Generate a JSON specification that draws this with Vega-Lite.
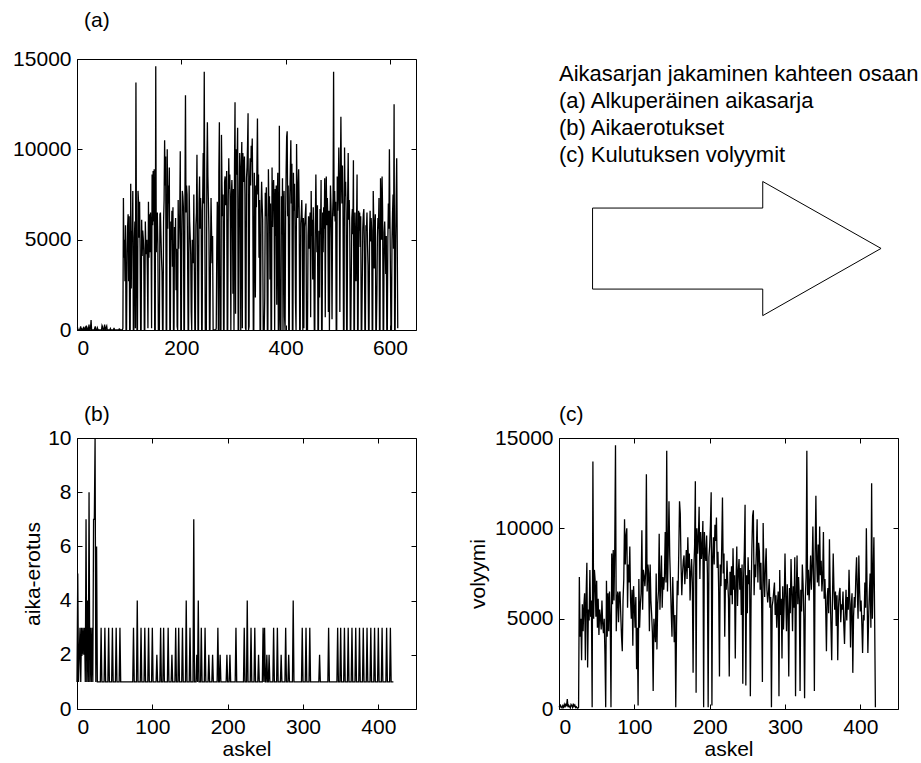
{
"$schema":"https://vega.github.io/schema/vega-lite/v6.json",
"autosize":{"type":"none"},
"padding":{"left":77,"top":59,"right":844,"bottom":704},
"config":{
 "font":"Liberation Sans",
 "view":{"stroke":"black","strokeWidth":1},
 "axis":{"grid":false,"domain":false,"tickSize":-5,"tickColor":"black","tickWidth":1,"labelColor":"black","labelFont":"Liberation Sans","labelFontSize":21,"titleFont":"Liberation Sans","titleFontSize":21,"titleFontWeight":"normal","titleColor":"black"},
 "axisX":{"labelPadding":12},
 "axisY":{"labelPadding":11},
 "title":{"font":"Liberation Sans","fontSize":21,"fontWeight":"normal","color":"black","anchor":"start","frame":"group"}
},
"datasets":{
"note":[{"ln":0,"txt":"Aikasarjan jakaminen kahteen osaan"},{"ln":1,"txt":"(a) Alkuperäinen aikasarja"},{"ln":2,"txt":"(b) Aikaerotukset"},{"ln":3,"txt":"(c) Kulutuksen volyymit"}],
"arrow":[{"p":0,"ax":9.9,"ay":45},{"p":1,"ax":60.1,"ay":45},{"p":2,"ax":60.1,"ay":54.8},{"p":3,"ax":95,"ay":30.1},{"p":4,"ax":60.1,"ay":5.3},{"p":5,"ax":60.1,"ay":15.1},{"p":6,"ax":9.9,"ay":15.1},{"p":7,"ax":9.9,"ay":45}],
"s":[
{"t":1,"k":0,"d":1,"v":150},
{"t":2,"v":0},{"t":3,"v":0},{"t":4,"v":0},{"t":5,"v":0},
{"t":6,"k":1,"d":5,"v":80},
{"t":7,"k":2,"d":1,"v":200},
{"t":8,"v":0},
{"t":9,"k":3,"d":2,"v":120},
{"t":10,"v":0},{"t":11,"v":0},
{"t":12,"k":4,"d":3,"v":60},
{"t":13,"k":5,"d":1,"v":180},
{"t":14,"v":0},{"t":15,"v":0},
{"t":16,"k":6,"d":3,"v":100},
{"t":17,"v":0},
{"t":18,"k":7,"d":2,"v":250},
{"t":19,"v":0},{"t":20,"v":0},
{"t":21,"k":8,"d":3,"v":90},
{"t":22,"v":0},
{"t":23,"k":9,"d":2,"v":300},
{"t":24,"v":0},{"t":25,"v":0},
{"t":26,"k":10,"d":3,"v":150},
{"t":27,"k":11,"d":1,"v":550},
{"t":28,"v":0},{"t":29,"v":0},{"t":30,"v":0},{"t":31,"v":0},{"t":32,"v":0},{"t":33,"v":0},
{"t":34,"k":12,"d":7,"v":100},
{"t":35,"k":13,"d":1,"v":200},
{"t":36,"v":0},{"t":37,"v":0},{"t":38,"v":0},
{"t":39,"k":14,"d":4,"v":130},
{"t":40,"k":15,"d":1,"v":60},
{"t":41,"v":0},{"t":42,"v":0},{"t":43,"v":0},{"t":44,"v":0},{"t":45,"v":0},{"t":46,"v":0},{"t":47,"v":0},
{"t":48,"k":16,"d":8,"v":250},
{"t":49,"k":17,"d":1,"v":180},
{"t":50,"v":0},{"t":51,"v":0},
{"t":52,"k":18,"d":3,"v":90},
{"t":53,"k":19,"d":1,"v":300},
{"t":54,"v":0},{"t":55,"v":0},
{"t":56,"k":20,"d":3,"v":150},
{"t":57,"k":21,"d":1,"v":220},
{"t":58,"v":0},{"t":59,"v":0},{"t":60,"v":0},{"t":61,"v":0},{"t":62,"v":0},{"t":63,"v":0},
{"t":64,"k":22,"d":7,"v":80},
{"t":65,"v":0},{"t":66,"v":0},{"t":67,"v":0},{"t":68,"v":0},{"t":69,"v":0},{"t":70,"v":0},
{"t":71,"k":23,"d":7,"v":120},
{"t":72,"v":0},{"t":73,"v":0},{"t":74,"v":0},{"t":75,"v":0},{"t":76,"v":0},{"t":77,"v":0},{"t":78,"v":0},{"t":79,"v":0},{"t":80,"v":0},
{"t":81,"k":24,"d":10,"v":60},
{"t":82,"k":25,"d":1,"v":40},
{"t":83,"v":0},{"t":84,"v":0},{"t":85,"v":0},{"t":86,"v":0},{"t":87,"v":0},
{"t":88,"k":26,"d":6,"v":100},
{"t":89,"k":27,"d":1,"v":7300},
{"t":90,"k":28,"d":1,"v":4000},
{"t":91,"k":29,"d":1,"v":5000},
{"t":92,"k":30,"d":1,"v":2700},
{"t":93,"k":31,"d":1,"v":5800},
{"t":94,"v":0},{"t":95,"v":0},
{"t":96,"k":32,"d":3,"v":4300},
{"t":97,"k":33,"d":1,"v":5700},
{"t":98,"k":34,"d":1,"v":6400},
{"t":99,"k":35,"d":1,"v":2700},
{"t":100,"k":36,"d":1,"v":6300},
{"t":101,"v":0},{"t":102,"v":0},
{"t":103,"k":37,"d":3,"v":8100},
{"t":104,"k":38,"d":1,"v":2300},
{"t":105,"k":39,"d":1,"v":5500},
{"t":106,"k":40,"d":1,"v":4900},
{"t":107,"k":41,"d":1,"v":7700},
{"t":108,"v":0},{"t":109,"v":0},
{"t":110,"k":42,"d":3,"v":5100},
{"t":111,"k":43,"d":1,"v":6000},
{"t":112,"k":44,"d":1,"v":100},
{"t":113,"k":45,"d":1,"v":13700},
{"t":114,"k":46,"d":1,"v":5000},
{"t":115,"v":0},{"t":116,"v":0},
{"t":117,"k":47,"d":3,"v":7700},
{"t":118,"k":48,"d":1,"v":7100},
{"t":119,"k":49,"d":1,"v":5100},
{"t":120,"k":50,"d":1,"v":7100},
{"t":121,"k":51,"d":1,"v":4500},
{"t":122,"v":0},{"t":123,"v":0},
{"t":124,"k":52,"d":3,"v":6100},
{"t":125,"k":53,"d":1,"v":4100},
{"t":126,"k":54,"d":1,"v":5500},
{"t":127,"k":55,"d":1,"v":5100},
{"t":128,"k":56,"d":1,"v":4400},
{"t":129,"v":0},{"t":130,"v":0},
{"t":131,"k":57,"d":3,"v":6000},
{"t":132,"k":58,"d":1,"v":4700},
{"t":133,"k":59,"d":1,"v":4200},
{"t":134,"k":60,"d":1,"v":5000},
{"t":135,"k":61,"d":1,"v":3000},
{"t":136,"k":62,"d":1,"v":100},
{"t":137,"k":63,"d":1,"v":7100},
{"t":138,"k":64,"d":1,"v":4000},
{"t":139,"k":65,"d":1,"v":6400},
{"t":140,"k":66,"d":1,"v":4300},
{"t":141,"k":67,"d":1,"v":6500},
{"t":142,"k":68,"d":1,"v":5000},
{"t":143,"k":69,"d":1,"v":100},
{"t":144,"k":70,"d":1,"v":8600},
{"t":145,"k":71,"d":1,"v":5800},
{"t":146,"k":72,"d":1,"v":8800},
{"t":147,"k":73,"d":1,"v":6000},
{"t":148,"k":74,"d":1,"v":8900},
{"t":149,"v":0},{"t":150,"v":0},
{"t":151,"k":75,"d":3,"v":14600},
{"t":152,"k":76,"d":1,"v":4300},
{"t":153,"k":77,"d":1,"v":6000},
{"t":154,"k":78,"d":1,"v":6500},
{"t":155,"k":79,"d":1,"v":4800},
{"t":156,"v":0},{"t":157,"v":0},{"t":158,"v":0},
{"t":159,"k":80,"d":4,"v":6400},
{"t":160,"k":81,"d":1,"v":6500},
{"t":161,"k":82,"d":1,"v":5200},
{"t":162,"k":83,"d":1,"v":4000},
{"t":163,"k":84,"d":1,"v":3200},
{"t":164,"v":0},{"t":165,"v":0},
{"t":166,"k":85,"d":3,"v":6000},
{"t":167,"k":86,"d":1,"v":7200},
{"t":168,"k":87,"d":1,"v":10500},
{"t":169,"k":88,"d":1,"v":8000},
{"t":170,"k":89,"d":1,"v":9600},
{"t":171,"v":0},{"t":172,"v":0},
{"t":173,"k":90,"d":3,"v":10000},
{"t":174,"k":91,"d":1,"v":5600},
{"t":175,"k":92,"d":1,"v":8000},
{"t":176,"k":93,"d":1,"v":7000},
{"t":177,"k":94,"d":1,"v":9000},
{"t":178,"v":0},{"t":179,"v":0},
{"t":180,"k":95,"d":3,"v":6000},
{"t":181,"k":96,"d":1,"v":5000},
{"t":182,"k":97,"d":1,"v":6600},
{"t":183,"k":98,"d":1,"v":3500},
{"t":184,"k":99,"d":1,"v":6800},
{"t":185,"v":0},{"t":186,"v":0},
{"t":187,"k":100,"d":3,"v":5700},
{"t":188,"k":101,"d":1,"v":4500},
{"t":189,"k":102,"d":1,"v":6200},
{"t":190,"k":103,"d":1,"v":2200},
{"t":191,"k":104,"d":1,"v":4500},
{"t":192,"k":105,"d":1,"v":200},
{"t":193,"v":0},
{"t":194,"k":106,"d":2,"v":7200},
{"t":195,"k":107,"d":1,"v":4500},
{"t":196,"k":108,"d":1,"v":5800},
{"t":197,"k":109,"d":1,"v":6400},
{"t":198,"k":110,"d":1,"v":9900},
{"t":199,"v":0},{"t":200,"v":0},
{"t":201,"k":111,"d":3,"v":5500},
{"t":202,"k":112,"d":1,"v":7700},
{"t":203,"k":113,"d":1,"v":7400},
{"t":204,"k":114,"d":1,"v":6800},
{"t":205,"v":0},{"t":206,"v":0},
{"t":207,"k":115,"d":3,"v":7500},
{"t":208,"k":116,"d":1,"v":13000},
{"t":209,"k":117,"d":1,"v":6500},
{"t":210,"k":118,"d":1,"v":8000},
{"t":211,"k":119,"d":1,"v":7500},
{"t":212,"k":120,"d":1,"v":4300},
{"t":213,"v":0},{"t":214,"v":0},
{"t":215,"k":121,"d":3,"v":8000},
{"t":216,"k":122,"d":1,"v":6000},
{"t":217,"k":123,"d":1,"v":5200},
{"t":218,"k":124,"d":1,"v":4200},
{"t":219,"k":125,"d":1,"v":1000},
{"t":220,"v":0},
{"t":221,"k":126,"d":2,"v":5000},
{"t":222,"k":127,"d":1,"v":4300},
{"t":223,"k":128,"d":1,"v":3700},
{"t":224,"k":129,"d":1,"v":7500},
{"t":225,"k":130,"d":1,"v":3300},
{"t":226,"v":0},{"t":227,"v":0},
{"t":228,"k":131,"d":3,"v":5800},
{"t":229,"k":132,"d":1,"v":6500},
{"t":230,"k":133,"d":1,"v":9700},
{"t":231,"k":134,"d":1,"v":5500},
{"t":232,"v":0},{"t":233,"v":0},
{"t":234,"k":135,"d":3,"v":7000},
{"t":235,"k":136,"d":1,"v":8500},
{"t":236,"k":137,"d":1,"v":5600},
{"t":237,"k":138,"d":1,"v":7300},
{"t":238,"k":139,"d":1,"v":6600},
{"t":239,"v":0},{"t":240,"v":0},
{"t":241,"k":140,"d":3,"v":7300},
{"t":242,"k":141,"d":1,"v":9800},
{"t":243,"k":142,"d":1,"v":7000},
{"t":244,"k":143,"d":1,"v":14300},
{"t":245,"k":144,"d":1,"v":6500},
{"t":246,"v":0},{"t":247,"v":0},{"t":248,"v":0},
{"t":249,"k":145,"d":4,"v":8800},
{"t":250,"k":146,"d":1,"v":11500},
{"t":251,"k":147,"d":1,"v":8500},
{"t":252,"k":148,"d":1,"v":7000},
{"t":253,"k":149,"d":1,"v":5300},
{"t":254,"v":0},{"t":255,"v":0},
{"t":256,"k":150,"d":3,"v":4000},
{"t":257,"k":151,"d":1,"v":7300},
{"t":258,"k":152,"d":1,"v":5500},
{"t":259,"k":153,"d":1,"v":3700},
{"t":260,"k":154,"d":1,"v":5200},
{"t":261,"v":0},{"t":262,"v":0},{"t":263,"v":0},{"t":264,"v":0},{"t":265,"v":0},{"t":266,"v":0},
{"t":267,"k":155,"d":7,"v":100},
{"t":268,"k":156,"d":1,"v":4500},
{"t":269,"k":157,"d":1,"v":7100},
{"t":270,"k":158,"d":1,"v":6300},
{"t":271,"v":0},
{"t":272,"k":159,"d":2,"v":8700},
{"t":273,"k":160,"d":1,"v":11500},
{"t":274,"v":0},{"t":275,"v":0},{"t":276,"v":0},
{"t":277,"k":161,"d":4,"v":10800},
{"t":278,"k":162,"d":1,"v":8000},
{"t":279,"k":163,"d":1,"v":6300},
{"t":280,"k":164,"d":1,"v":7500},
{"t":281,"v":0},{"t":282,"v":0},
{"t":283,"k":165,"d":3,"v":8200},
{"t":284,"k":166,"d":1,"v":8500},
{"t":285,"k":167,"d":1,"v":6900},
{"t":286,"k":168,"d":1,"v":7700},
{"t":287,"k":169,"d":1,"v":8800},
{"t":288,"v":0},{"t":289,"v":0},
{"t":290,"k":170,"d":3,"v":7200},
{"t":291,"k":171,"d":1,"v":9500},
{"t":292,"k":172,"d":1,"v":7800},
{"t":293,"k":173,"d":1,"v":8600},
{"t":294,"k":174,"d":1,"v":6000},
{"t":295,"v":0},
{"t":296,"k":175,"d":2,"v":7500},
{"t":297,"k":176,"d":1,"v":8300},
{"t":298,"k":177,"d":1,"v":7000},
{"t":299,"k":178,"d":1,"v":2000},
{"t":300,"k":179,"d":1,"v":7800},
{"t":301,"v":0},
{"t":302,"k":180,"d":2,"v":9000},
{"t":303,"k":181,"d":1,"v":12600},
{"t":304,"k":182,"d":1,"v":900},
{"t":305,"k":183,"d":1,"v":10000},
{"t":306,"k":184,"d":1,"v":8600},
{"t":307,"k":185,"d":1,"v":9500},
{"t":308,"k":186,"d":1,"v":11200},
{"t":309,"v":0},{"t":310,"v":0},
{"t":311,"k":187,"d":3,"v":7200},
{"t":312,"k":188,"d":1,"v":9800},
{"t":313,"k":189,"d":1,"v":8300},
{"t":314,"v":0},
{"t":315,"k":190,"d":2,"v":9000},
{"t":316,"k":191,"d":1,"v":10400},
{"t":317,"k":192,"d":1,"v":100},
{"t":318,"k":193,"d":1,"v":9800},
{"t":319,"k":194,"d":1,"v":8600},
{"t":320,"k":195,"d":1,"v":8200},
{"t":321,"k":196,"d":1,"v":9600},
{"t":322,"k":197,"d":1,"v":7500},
{"t":323,"k":198,"d":1,"v":100},
{"t":324,"v":0},
{"t":325,"k":199,"d":2,"v":8400},
{"t":326,"k":200,"d":1,"v":9000},
{"t":327,"k":201,"d":1,"v":10200},
{"t":328,"k":202,"d":1,"v":12000},
{"t":329,"v":0},
{"t":330,"k":203,"d":2,"v":200},
{"t":331,"k":204,"d":1,"v":8400},
{"t":332,"k":205,"d":1,"v":9500},
{"t":333,"k":206,"d":1,"v":8000},
{"t":334,"k":207,"d":1,"v":10200},
{"t":335,"k":208,"d":1,"v":9300},
{"t":336,"k":209,"d":1,"v":10600},
{"t":337,"k":210,"d":1,"v":7800},
{"t":338,"v":0},{"t":339,"v":0},
{"t":340,"k":211,"d":3,"v":8700},
{"t":341,"k":212,"d":1,"v":6500},
{"t":342,"k":213,"d":1,"v":1800},
{"t":343,"k":214,"d":1,"v":8000},
{"t":344,"k":215,"d":1,"v":6800},
{"t":345,"k":216,"d":1,"v":9000},
{"t":346,"k":217,"d":1,"v":11700},
{"t":347,"k":218,"d":1,"v":7500},
{"t":348,"k":219,"d":1,"v":8600},
{"t":349,"k":220,"d":1,"v":4000},
{"t":350,"k":221,"d":1,"v":7200},
{"t":351,"v":0},{"t":352,"v":0},
{"t":353,"k":222,"d":3,"v":6600},
{"t":354,"k":223,"d":1,"v":8200},
{"t":355,"k":224,"d":1,"v":7000},
{"t":356,"k":225,"d":1,"v":6100},
{"t":357,"v":0},{"t":358,"v":0},{"t":359,"v":0},
{"t":360,"k":226,"d":4,"v":1800},
{"t":361,"k":227,"d":1,"v":7600},
{"t":362,"k":228,"d":1,"v":6300},
{"t":363,"k":229,"d":1,"v":7900},
{"t":364,"k":230,"d":1,"v":5800},
{"t":365,"v":0},{"t":366,"v":0},
{"t":367,"k":231,"d":3,"v":8900},
{"t":368,"k":232,"d":1,"v":6600},
{"t":369,"k":233,"d":1,"v":7400},
{"t":370,"k":234,"d":1,"v":2800},
{"t":371,"k":235,"d":1,"v":7000},
{"t":372,"v":0},{"t":373,"v":0},
{"t":374,"k":236,"d":3,"v":9000},
{"t":375,"k":237,"d":1,"v":5700},
{"t":376,"k":238,"d":1,"v":7600},
{"t":377,"k":239,"d":1,"v":8300},
{"t":378,"k":240,"d":1,"v":6600},
{"t":379,"v":0},
{"t":380,"k":241,"d":2,"v":7800},
{"t":381,"k":242,"d":1,"v":5200},
{"t":382,"k":243,"d":1,"v":8000},
{"t":383,"k":244,"d":1,"v":1400},
{"t":384,"k":245,"d":1,"v":7200},
{"t":385,"k":246,"d":1,"v":8700},
{"t":386,"v":0},{"t":387,"v":0},
{"t":388,"k":247,"d":3,"v":11300},
{"t":389,"k":248,"d":1,"v":1300},
{"t":390,"v":0},{"t":391,"v":0},
{"t":392,"k":249,"d":3,"v":7400},
{"t":393,"k":250,"d":1,"v":5300},
{"t":394,"k":251,"d":1,"v":8400},
{"t":395,"v":0},
{"t":396,"k":252,"d":2,"v":6900},
{"t":397,"k":253,"d":1,"v":7700},
{"t":398,"k":254,"d":1,"v":700},
{"t":399,"v":0},
{"t":400,"k":255,"d":2,"v":6200},
{"t":401,"k":256,"d":1,"v":8800},
{"t":402,"k":257,"d":1,"v":10700},
{"t":403,"k":258,"d":1,"v":11000},
{"t":404,"k":259,"d":1,"v":6300},
{"t":405,"k":260,"d":1,"v":8000},
{"t":406,"v":0},{"t":407,"v":0},
{"t":408,"k":261,"d":3,"v":7300},
{"t":409,"k":262,"d":1,"v":8800},
{"t":410,"k":263,"d":1,"v":10500},
{"t":411,"k":264,"d":1,"v":7000},
{"t":412,"k":265,"d":1,"v":9200},
{"t":413,"v":0},{"t":414,"v":0},
{"t":415,"k":266,"d":3,"v":8700},
{"t":416,"k":267,"d":1,"v":6600},
{"t":417,"k":268,"d":1,"v":8100},
{"t":418,"k":269,"d":1,"v":5800},
{"t":419,"k":270,"d":1,"v":1500},
{"t":420,"v":0},
{"t":421,"k":271,"d":2,"v":10300},
{"t":422,"k":272,"d":1,"v":7600},
{"t":423,"k":273,"d":1,"v":6200},
{"t":424,"k":274,"d":1,"v":7900},
{"t":425,"k":275,"d":1,"v":8900},
{"t":426,"k":276,"d":1,"v":6600},
{"t":427,"v":0},{"t":428,"v":0},
{"t":429,"k":277,"d":3,"v":5900},
{"t":430,"k":278,"d":1,"v":6400},
{"t":431,"k":279,"d":1,"v":7200},
{"t":432,"k":280,"d":1,"v":5600},
{"t":433,"v":0},
{"t":434,"k":281,"d":2,"v":6200},
{"t":435,"k":282,"d":1,"v":100},
{"t":436,"k":283,"d":1,"v":5700},
{"t":437,"k":284,"d":1,"v":6000},
{"t":438,"k":285,"d":1,"v":6500},
{"t":439,"k":286,"d":1,"v":7000},
{"t":440,"v":0},{"t":441,"v":0},{"t":442,"v":0},
{"t":443,"k":287,"d":4,"v":5200},
{"t":444,"k":288,"d":1,"v":6300},
{"t":445,"k":289,"d":1,"v":4500},
{"t":446,"k":290,"d":1,"v":5800},
{"t":447,"k":291,"d":1,"v":6500},
{"t":448,"k":292,"d":1,"v":700},
{"t":449,"k":293,"d":1,"v":7700},
{"t":450,"k":294,"d":1,"v":5200},
{"t":451,"k":295,"d":1,"v":6100},
{"t":452,"k":296,"d":1,"v":2800},
{"t":453,"k":297,"d":1,"v":6800},
{"t":454,"k":298,"d":1,"v":4400},
{"t":455,"v":0},{"t":456,"v":0},
{"t":457,"k":299,"d":3,"v":5900},
{"t":458,"k":300,"d":1,"v":8600},
{"t":459,"k":301,"d":1,"v":6200},
{"t":460,"k":302,"d":1,"v":4300},
{"t":461,"k":303,"d":1,"v":6900},
{"t":462,"v":0},{"t":463,"v":0},
{"t":464,"k":304,"d":3,"v":5500},
{"t":465,"k":305,"d":1,"v":1800},
{"t":466,"k":306,"d":1,"v":6700},
{"t":467,"k":307,"d":1,"v":5300},
{"t":468,"k":308,"d":1,"v":8300},
{"t":469,"v":0},{"t":470,"v":0},
{"t":471,"k":309,"d":3,"v":6500},
{"t":472,"k":310,"d":1,"v":4300},
{"t":473,"k":311,"d":1,"v":6800},
{"t":474,"k":312,"d":1,"v":5600},
{"t":475,"k":313,"d":1,"v":8400},
{"t":476,"k":314,"d":1,"v":700},
{"t":477,"k":315,"d":1,"v":6400},
{"t":478,"k":316,"d":1,"v":8500},
{"t":479,"k":317,"d":1,"v":5800},
{"t":480,"k":318,"d":1,"v":7300},
{"t":481,"k":319,"d":1,"v":6100},
{"t":482,"k":320,"d":1,"v":1000},
{"t":483,"k":321,"d":1,"v":6600},
{"t":484,"v":0},
{"t":485,"k":322,"d":2,"v":5400},
{"t":486,"k":323,"d":1,"v":8000},
{"t":487,"k":324,"d":1,"v":6900},
{"t":488,"k":325,"d":1,"v":5100},
{"t":489,"k":326,"d":1,"v":600},
{"t":490,"k":327,"d":1,"v":6200},
{"t":491,"k":328,"d":1,"v":7300},
{"t":492,"k":329,"d":1,"v":14300},
{"t":493,"k":330,"d":1,"v":6300},
{"t":494,"k":331,"d":1,"v":7700},
{"t":495,"k":332,"d":1,"v":6000},
{"t":496,"k":333,"d":1,"v":7100},
{"t":497,"v":0},{"t":498,"v":0},
{"t":499,"k":334,"d":3,"v":8500},
{"t":500,"k":335,"d":1,"v":6600},
{"t":501,"k":336,"d":1,"v":7800},
{"t":502,"k":337,"d":1,"v":10100},
{"t":503,"k":338,"d":1,"v":7200},
{"t":504,"k":339,"d":1,"v":1000},
{"t":505,"k":340,"d":1,"v":8600},
{"t":506,"k":341,"d":1,"v":11800},
{"t":507,"k":342,"d":1,"v":8300},
{"t":508,"k":343,"d":1,"v":7000},
{"t":509,"k":344,"d":1,"v":9100},
{"t":510,"k":345,"d":1,"v":6800},
{"t":511,"v":0},{"t":512,"v":0},
{"t":513,"k":346,"d":3,"v":10100},
{"t":514,"k":347,"d":1,"v":7400},
{"t":515,"k":348,"d":1,"v":8200},
{"t":516,"k":349,"d":1,"v":6500},
{"t":517,"v":0},{"t":518,"v":0},
{"t":519,"k":350,"d":3,"v":7300},
{"t":520,"k":351,"d":1,"v":9800},
{"t":521,"k":352,"d":1,"v":6100},
{"t":522,"k":353,"d":1,"v":7200},
{"t":523,"k":354,"d":1,"v":5600},
{"t":524,"v":0},{"t":525,"v":0},
{"t":526,"k":355,"d":3,"v":3200},
{"t":527,"k":356,"d":1,"v":6200},
{"t":528,"k":357,"d":1,"v":6700},
{"t":529,"k":358,"d":1,"v":5300},
{"t":530,"k":359,"d":1,"v":9400},
{"t":531,"v":0},{"t":532,"v":0},
{"t":533,"k":360,"d":3,"v":6500},
{"t":534,"k":361,"d":1,"v":4600},
{"t":535,"k":362,"d":1,"v":2700},
{"t":536,"k":363,"d":1,"v":6000},
{"t":537,"k":364,"d":1,"v":8600},
{"t":538,"v":0},{"t":539,"v":0},
{"t":540,"k":365,"d":3,"v":6600},
{"t":541,"k":366,"d":1,"v":5500},
{"t":542,"k":367,"d":1,"v":6500},
{"t":543,"k":368,"d":1,"v":4600},
{"t":544,"k":369,"d":1,"v":6300},
{"t":545,"v":0},{"t":546,"v":0},
{"t":547,"k":370,"d":3,"v":2700},
{"t":548,"k":371,"d":1,"v":5600},
{"t":549,"k":372,"d":1,"v":6400},
{"t":550,"k":373,"d":1,"v":6700},
{"t":551,"k":374,"d":1,"v":4800},
{"t":552,"v":0},{"t":553,"v":0},
{"t":554,"k":375,"d":3,"v":5800},
{"t":555,"k":376,"d":1,"v":5500},
{"t":556,"k":377,"d":1,"v":6500},
{"t":557,"k":378,"d":1,"v":4700},
{"t":558,"k":379,"d":1,"v":3600},
{"t":559,"v":0},{"t":560,"v":0},
{"t":561,"k":380,"d":3,"v":5300},
{"t":562,"k":381,"d":1,"v":6600},
{"t":563,"k":382,"d":1,"v":4900},
{"t":564,"k":383,"d":1,"v":6200},
{"t":565,"k":384,"d":1,"v":5500},
{"t":566,"v":0},{"t":567,"v":0},
{"t":568,"k":385,"d":3,"v":7700},
{"t":569,"k":386,"d":1,"v":6000},
{"t":570,"k":387,"d":1,"v":3400},
{"t":571,"k":388,"d":1,"v":5800},
{"t":572,"k":389,"d":1,"v":6400},
{"t":573,"v":0},{"t":574,"v":0},
{"t":575,"k":390,"d":3,"v":2000},
{"t":576,"k":391,"d":1,"v":5100},
{"t":577,"k":392,"d":1,"v":6200},
{"t":578,"k":393,"d":1,"v":5600},
{"t":579,"k":394,"d":1,"v":7300},
{"t":580,"v":0},{"t":581,"v":0},
{"t":582,"k":395,"d":3,"v":8400},
{"t":583,"k":396,"d":1,"v":6500},
{"t":584,"k":397,"d":1,"v":5000},
{"t":585,"k":398,"d":1,"v":8500},
{"t":586,"k":399,"d":1,"v":6600},
{"t":587,"v":0},{"t":588,"v":0},
{"t":589,"k":400,"d":3,"v":5400},
{"t":590,"k":401,"d":1,"v":6000},
{"t":591,"k":402,"d":1,"v":4700},
{"t":592,"k":403,"d":1,"v":3100},
{"t":593,"k":404,"d":1,"v":5200},
{"t":594,"v":0},{"t":595,"v":0},
{"t":596,"k":405,"d":3,"v":4900},
{"t":597,"k":406,"d":1,"v":7000},
{"t":598,"k":407,"d":1,"v":5600},
{"t":599,"k":408,"d":1,"v":10000},
{"t":600,"k":409,"d":1,"v":6300},
{"t":601,"k":410,"d":1,"v":3100},
{"t":602,"v":0},{"t":603,"v":0},
{"t":604,"k":411,"d":3,"v":5000},
{"t":605,"k":412,"d":1,"v":6400},
{"t":606,"k":413,"d":1,"v":7500},
{"t":607,"k":414,"d":1,"v":4500},
{"t":608,"k":415,"d":1,"v":12500},
{"t":609,"v":0},{"t":610,"v":0},
{"t":611,"k":416,"d":3,"v":5000},
{"t":612,"k":417,"d":1,"v":7300},
{"t":613,"k":418,"d":1,"v":9500},
{"t":614,"k":419,"d":1,"v":5000},
{"t":615,"k":420,"d":1,"v":100}
]},
"columns":2,
"spacing":{"row":108,"column":143},
"bounds":"flush",
"concat":[
{
 "width":339,"height":271,
 "title":{"text":"(a)","offset":31,"baseline":"alphabetic","dx":7,"dy":31},
 "data":{"name":"s"},
 "layer":[
  {"mark":{"type":"line","color":"black","strokeWidth":1.3},
   "encoding":{
    "x":{"field":"t","type":"quantitative","scale":{"domain":[0,650],"nice":false},"axis":{"values":[0,200,400,600],"title":null}},
    "y":{"field":"v","type":"quantitative","scale":{"domain":[0,15000],"nice":false},"axis":{"values":[0,5000,10000,15000],"format":"d","title":null}}
   }},
  {"mark":{"type":"line","opacity":0},
   "encoding":{
    "x":{"field":"t","type":"quantitative","axis":{"orient":"top","values":[0,200,400,600],"labels":false,"title":null}},
    "y":{"field":"v","type":"quantitative","axis":{"orient":"right","values":[0,5000,10000,15000],"labels":false,"title":null}}
   }}
 ],
 "resolve":{"axis":{"x":"independent","y":"independent"}}
},
{
 "width":339,"height":271,
 "view":{"stroke":null},
 "layer":[
  {"data":{"name":"note"},
   "mark":{"type":"text","align":"left","baseline":"alphabetic","fontSize":22,"font":"Liberation Sans","color":"black"},
   "encoding":{
    "x":{"datum":0,"type":"quantitative","scale":{"domain":[0,100],"nice":false},"axis":null},
    "y":{"field":"ln","type":"ordinal","scale":{"type":"point","padding":0,"range":[21.7,103]},"axis":null},
    "text":{"field":"txt"}
   }},
  {"data":{"name":"arrow"},
   "mark":{"type":"line","color":"black","strokeWidth":1},
   "encoding":{
    "x":{"field":"ax","type":"quantitative","scale":{"domain":[0,100],"nice":false},"axis":null},
    "y":{"field":"ay","type":"quantitative","scale":{"domain":[0,100],"nice":false},"axis":null},
    "order":{"field":"p","type":"quantitative"}
   }}
 ],
 "resolve":{"scale":{"y":"independent"}}
},
{
 "width":339,"height":271,
 "title":{"text":"(b)","offset":16,"baseline":"alphabetic","dx":7,"dy":31},
 "data":{"name":"s"},
 "transform":[{"filter":{"field":"k","valid":true}}],
 "layer":[
  {"mark":{"type":"line","color":"black","strokeWidth":1.3},
   "encoding":{
    "x":{"field":"k","type":"quantitative","scale":{"domain":[0,450],"nice":false},"axis":{"values":[0,100,200,300,400],"title":"askel","titlePadding":1}},
    "y":{"field":"d","type":"quantitative","scale":{"domain":[0,10],"nice":false},"axis":{"values":[0,2,4,6,8,10],"title":"aika-erotus","titlePadding":4}}
   }},
  {"mark":{"type":"line","opacity":0},
   "encoding":{
    "x":{"field":"k","type":"quantitative","axis":{"orient":"top","values":[0,100,200,300,400],"labels":false,"title":null}},
    "y":{"field":"d","type":"quantitative","axis":{"orient":"right","values":[0,2,4,6,8,10],"labels":false,"title":null}}
   }}
 ],
 "resolve":{"axis":{"x":"independent","y":"independent"}}
},
{
 "width":339,"height":271,
 "title":{"text":"(c)","offset":16,"baseline":"alphabetic","dx":0,"dy":31},
 "data":{"name":"s"},
 "transform":[{"filter":{"field":"k","valid":true}}],
 "layer":[
  {"mark":{"type":"line","color":"black","strokeWidth":1.3},
   "encoding":{
    "x":{"field":"k","type":"quantitative","scale":{"domain":[0,450],"nice":false},"axis":{"values":[0,100,200,300,400],"title":"askel","titlePadding":1}},
    "y":{"field":"v","type":"quantitative","scale":{"domain":[0,15000],"nice":false},"axis":{"values":[0,5000,10000,15000],"format":"d","title":"volyymi","titlePadding":6}}
   }},
  {"mark":{"type":"line","opacity":0},
   "encoding":{
    "x":{"field":"k","type":"quantitative","axis":{"orient":"top","values":[0,100,200,300,400],"labels":false,"title":null}},
    "y":{"field":"v","type":"quantitative","axis":{"orient":"right","values":[0,5000,10000,15000],"labels":false,"title":null}}
   }}
 ],
 "resolve":{"axis":{"x":"independent","y":"independent"}}
}
]
}
